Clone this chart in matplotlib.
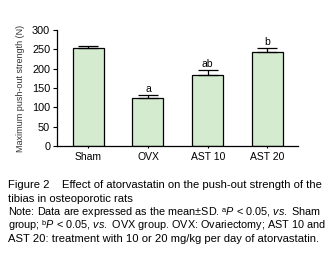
import numpy as np
import matplotlib
matplotlib.use('Agg')
import matplotlib.pyplot as plt

plt.rcParams['font.family'] = ['Liberation Sans', 'DejaVu Sans']
plt.rcParams['mathtext.fontset'] = 'custom'
plt.rcParams['mathtext.rm'] = 'Liberation Sans'
plt.rcParams['mathtext.it'] = 'Liberation Sans:italic'

groups = ['Sham', 'OVX', 'AST 10', 'AST 20']
means = [253, 123, 183, 242]
sds = [5, 8, 13, 10]
marks = ['', 'a', 'ab', 'b']
yticks = [0, 50, 100, 150, 200, 250, 300]

fig = plt.figure(figsize=(3.34, 2.69), dpi=100)
ax = fig.add_axes([0.171, 0.457, 0.721, 0.432])

x = np.arange(len(groups))
ax.bar(x, means, width=0.52, color='#d5ebd0', edgecolor='black', linewidth=0.9)
ax.errorbar(x, means, yerr=[np.zeros(len(sds)), sds], fmt='none',
            ecolor='black', elinewidth=0.9, capsize=7, capthick=0.9)
for xi, m, s, t in zip(x, means, sds, marks):
    ax.text(xi, m + s + 4, t, ha='center', va='bottom', fontsize=7.5)

ax.set_xlim(-0.52, 3.51)
ax.set_ylim(0, 300)
ax.set_yticks(yticks)
ax.set_xticks(x)
ax.set_xticklabels(groups)
ax.tick_params(axis='y', labelsize=7.8, length=3, width=0.8, pad=2)
ax.tick_params(axis='x', labelsize=7.5, length=1.5, width=0.8, pad=3)
ax.spines['top'].set_visible(False)
ax.spines['right'].set_visible(False)
ax.spines['left'].set_linewidth(0.9)
ax.spines['bottom'].set_linewidth(0.9)
ax.set_ylabel('Maximum push-out strength (N)', fontsize=6.5, color='#333333', labelpad=5)

cap = 8.1
note = 7.8
x0 = 0.024
fig.text(x0, 1 - 184.5 / 269, 'Figure 2    Effect of atorvastatin on the push-out strength of the',
         fontsize=cap, va='center')
fig.text(x0, 1 - 198.5 / 269, 'tibias in osteoporotic rats', fontsize=cap, va='center')
fig.text(x0, 1 - 212 / 269, 'Note: Data are expressed as the mean\u00b1SD. \u1d43$P$ < 0.05, $vs.$ Sham',
         fontsize=note, va='center')
fig.text(x0, 1 - 225.5 / 269, 'group; \u1d47$P$ < 0.05, $vs.$ OVX group. OVX: Ovariectomy; AST 10 and',
         fontsize=note, va='center')
fig.text(x0, 1 - 239 / 269, 'AST 20: treatment with 10 or 20 mg/kg per day of atorvastatin.',
         fontsize=cap, va='center')

fig.savefig('out.png', dpi=100)
